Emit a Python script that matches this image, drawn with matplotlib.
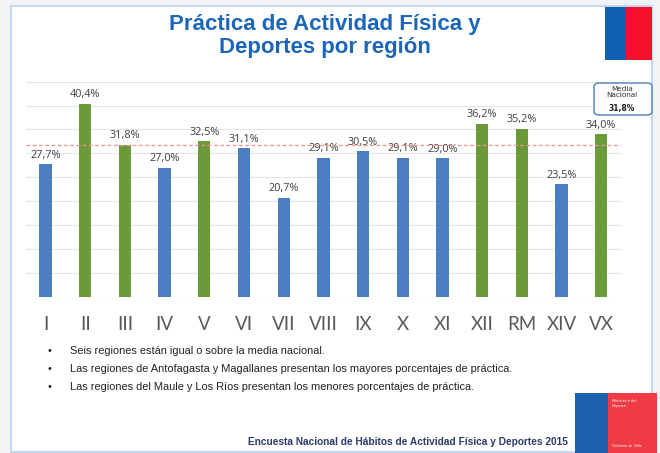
import matplotlib
matplotlib.use("Agg")
import matplotlib.pyplot as plt
from matplotlib.patches import Rectangle, FancyBboxPatch

regions = ["I", "II", "III", "IV", "V", "VI", "VII", "VIII", "IX", "X", "XI", "XII", "RM", "XIV", "VX"]
values = [27.7, 40.4, 31.8, 27.0, 32.5, 31.1, 20.7, 29.1, 30.5, 29.1, 29.0, 36.2, 35.2, 23.5, 34.0]
above_mean = [False, True, True, False, True, False, False, False, False, False, False, True, True, False, True]
labels = ["27,7%", "40,4%", "31,8%", "27,0%", "32,5%", "31,1%", "20,7%", "29,1%", "30,5%", "29,1%",
          "29,0%", "36,2%", "35,2%", "23,5%", "34,0%"]
media_nacional = 31.8
bullets = [
    "Seis regiones están igual o sobre la media nacional.",
    "Las regiones de Antofagasta y Magallanes presentan los mayores porcentajes de práctica.",
    "Las regiones del Maule y Los Ríos presentan los menores porcentajes de práctica.",
]
title = "Práctica de Actividad Física y\nDeportes por región"
footer = "Encuesta Nacional de Hábitos de Actividad Física y Deportes 2015"

W, H = 660, 453
fig = plt.figure(figsize=(W / 100, H / 100), dpi=100, facecolor="#F2F3F5")

def fx(x):
    return x / W

def fy(y):
    return 1 - y / H

# slide frame
fig.patches.append(Rectangle((fx(11), fy(452)), fx(652) - fx(11), fy(6) - fy(452),
                             transform=fig.transFigure, facecolor="white",
                             edgecolor="#C6D8F0", lw=1.5, zorder=-10))

# flag top right
fig.patches.append(Rectangle((fx(605), fy(60)), fx(626) - fx(605), fy(7) - fy(60),
                             transform=fig.transFigure, facecolor="#0F5FB4", edgecolor="none", zorder=1))
fig.patches.append(Rectangle((fx(626), fy(60)), fx(652) - fx(626), fy(7) - fy(60),
                             transform=fig.transFigure, facecolor="#F5102E", edgecolor="none", zorder=1))

# logo bottom right
fig.patches.append(Rectangle((fx(575), fy(453)), fx(608) - fx(575), fy(393) - fy(453),
                             transform=fig.transFigure, facecolor="#1E5FAF", edgecolor="none", zorder=1))
fig.patches.append(Rectangle((fx(608), fy(453)), fx(657) - fx(608), fy(393) - fy(453),
                             transform=fig.transFigure, facecolor="#EE3B44", edgecolor="none", zorder=1))
fig.text(fx(612), fy(399), "Ministerio del\nDeporte", color="white", fontsize=2.6,
         ha="left", va="top", linespacing=1.2, zorder=2)
fig.text(fx(612), fy(448), "Gobierno de Chile", color="white", fontsize=2.4, ha="left",
         va="bottom", zorder=2)

# title
fig.text(fx(325), fy(36), title, ha="center", va="center", fontsize=16, fontweight="bold",
         color="#1C66BA", family="Liberation Sans", linespacing=1.12)

# axes
ax = fig.add_axes([fx(25.7), fy(296.7), fx(621) - fx(25.7), fy(81.7) - fy(296.7)])
ax.set_zorder(1)
ax.set_facecolor("white")
x = list(range(len(regions)))
colors = ["#6A9A3A" if a else "#4A7EC0" for a in above_mean]
ax.bar(x, values, width=0.31, color=colors, zorder=3)
for xi, v, lab in zip(x, values, labels):
    ax.annotate(lab, (xi, v), xytext=(0, 2.5), textcoords="offset points", ha="center", va="bottom",
                fontsize=7.8, color="#404040", family="Open Sans")
ax.axhline(media_nacional, color="#F29393", lw=0.9, ls=(0, (3, 2)), zorder=4)
ax.set_xlim(-0.5, len(regions) - 0.5)
ax.set_ylim(0, 45)
ax.set_yticks(range(0, 46, 5))
ax.yaxis.grid(True, color="#E4E4E4", lw=0.8, zorder=0)
ax.tick_params(axis="y", left=False, labelleft=False)
ax.tick_params(axis="x", length=0, pad=14, labelsize=13.5, labelcolor="#5A5A5A")
ax.set_xticks(x)
ax.set_xticklabels(regions, family="Lato")
for s in ax.spines.values():
    s.set_visible(False)

# media nacional box
box = FancyBboxPatch((fx(594), fy(115)), fx(652) - fx(594), fy(83) - fy(115),
                     boxstyle="round,pad=0,rounding_size=0.008", transform=fig.transFigure,
                     facecolor="white", edgecolor="#4A7EC0", lw=1.0, zorder=5)
fig.patches.append(box)
fig.text(fx(622), fy(92), "Media\nNacional", ha="center", va="center", fontsize=5.2,
         color="#333333", linespacing=1.15, zorder=6)
fig.text(fx(622), fy(109), "31,8%", ha="center", va="center", fontsize=5.5,
         fontweight="bold", color="#222222", zorder=6)

# bullets
for i, b in enumerate(bullets):
    yy = fy(351 + i * 18)
    fig.text(fx(49), yy, "•", ha="center", va="center", fontsize=7, color="#222222")
    fig.text(fx(70), yy, b, ha="left", va="center", fontsize=7.9, color="#222222",
             family="Liberation Sans")

# footer
fig.text(fx(568), fy(442), footer, ha="right", va="center", fontsize=7.3, fontweight="bold",
         color="#2B3A67", family="Liberation Sans")

fig.savefig("out.png", dpi=100, facecolor=fig.get_facecolor())
